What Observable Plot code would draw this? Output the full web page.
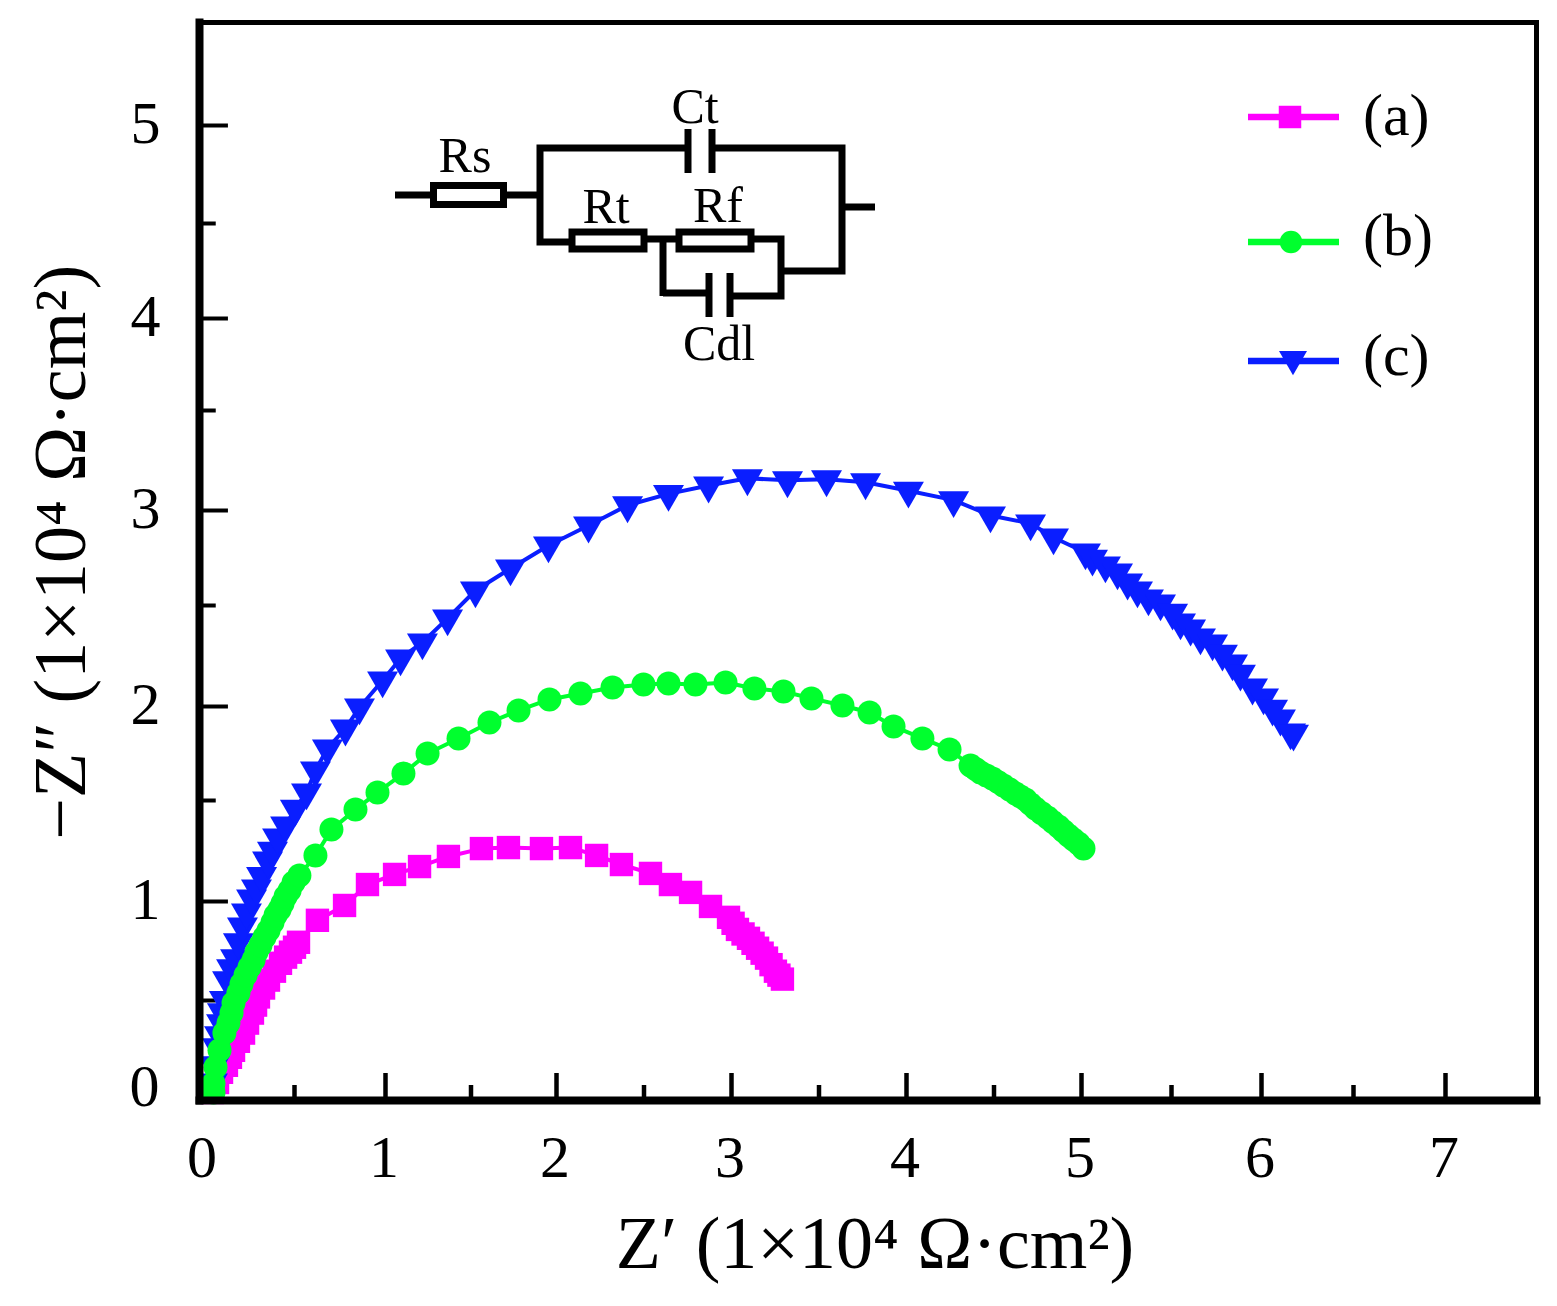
<!DOCTYPE html>
<html>
<head>
<meta charset="utf-8">
<style>html,body{margin:0;padding:0;background:#fff}svg{display:block}</style>
<script src="https://cdn.jsdelivr.net/npm/d3@7"></script>
<script src="https://cdn.jsdelivr.net/npm/@observablehq/plot@0.6"></script>
</head>
<body>
<div id="chart"></div>
<script>
const seriesLabels = ["(a)", "(b)", "(c)"];
const xLabel = "Z′ (1×10⁴ Ω·cm²)";
const yLabel = "−Z″ (1×10⁴ Ω·cm²)";
const xMajor = [0, 1, 2, 3, 4, 5, 6, 7];
const xMinor = [0.5, 1.5, 2.5, 3.5, 4.5, 5.5, 6.5];
const yMajor = [1, 2, 3, 4, 5];
const yMinor = [0.5, 1.5, 2.5, 3.5, 4.5];

const aX = [.049,.077,.099,.126,.148,.165,.192,.22,.242,.269,.286,.302,.33,.357,.39,.423,.451,.478,.5,.522,.626,.775,.901,1.053,1.199,1.368,1.561,1.719,1.912,2.08,2.229,2.371,2.537,2.651,2.766,2.88,2.983,3.009,3.034,3.066,3.097,3.123,3.149,3.175,3.2,3.226,3.251,3.271,3.291];
const aY = [.04,.09,.141,.176,.216,.251,.296,.337,.387,.437,.477,.518,.563,.603,.648,.688,.719,.744,.769,.794,.905,.98,1.084,1.134,1.173,1.223,1.262,1.267,1.262,1.267,1.228,1.183,1.139,1.084,1.045,.975,.92,.89,.859,.836,.814,.789,.764,.739,.714,.681,.648,.628,.608];

const bX = [.055,.055,.066,.088,.115,.137,.154,.165,.192,.209,.231,.253,.275,.291,.313,.335,.357,.379,.396,.418,.434,.451,.473,.495,.527,.615,.703,.835,.956,1.105,1.246,1.427,1.608,1.778,1.959,2.137,2.32,2.497,2.64,2.794,2.966,3.131,3.297,3.457,3.634,3.789,3.926,4.091,4.246,4.366,4.395,4.423,4.457,4.491,4.522,4.554,4.589,4.623,4.651,4.68,4.709,4.737,4.771,4.806,4.837,4.869,4.897,4.926,4.954,4.983,5.011];
const bY = [.04,.085,.166,.251,.337,.387,.437,.487,.538,.583,.628,.668,.704,.744,.779,.819,.854,.894,.93,.96,.99,1.025,1.054,1.094,1.129,1.228,1.356,1.455,1.543,1.644,1.75,1.83,1.915,1.979,2.035,2.064,2.094,2.109,2.114,2.109,2.119,2.089,2.074,2.04,2.005,1.968,1.894,1.83,1.771,1.686,1.667,1.649,1.633,1.617,1.599,1.58,1.558,1.537,1.521,1.505,1.482,1.46,1.438,1.416,1.393,1.371,1.349,1.327,1.307,1.287,1.262];

const cX = [.049,.06,.077,.088,.099,.104,.115,.132,.154,.176,.192,.214,.236,.264,.291,.319,.352,.379,.407,.451,.505,.566,.615,.681,.78,.857,.984,1.088,1.216,1.363,1.526,1.731,1.953,2.183,2.406,2.64,2.869,3.091,3.32,3.543,3.766,4.011,4.269,4.48,4.709,4.84,5.022,5.061,5.133,5.2,5.256,5.311,5.372,5.439,5.506,5.55,5.606,5.661,5.728,5.783,5.839,5.883,5.95,6.011,6.06,6.103,6.158,6.174];
const cY = [.09,.176,.266,.327,.387,.442,.503,.603,.663,.714,.794,.874,.945,1.015,1.065,1.126,1.203,1.252,1.317,1.376,1.46,1.543,1.66,1.777,1.883,1.995,2.129,2.238,2.317,2.436,2.579,2.695,2.816,2.921,3.026,3.083,3.125,3.161,3.151,3.156,3.141,3.099,3.052,2.974,2.932,2.858,2.779,2.747,2.711,2.674,2.621,2.579,2.537,2.511,2.465,2.416,2.386,2.342,2.312,2.262,2.213,2.163,2.094,2.045,1.989,1.936,1.862,1.856];

const MAGENTA = "#ff00ff", GREEN = "#00ff2e", BLUE = "#0a1eff";
const SERIF = "'Liberation Serif','Times New Roman',serif";

function circuit() {
  const g = d3.create("svg:g").attr("fill", "none").attr("stroke", "#000").attr("stroke-width", 7);
  const wires = [
    [[395,195],[433,195]], [[503,195],[540,195]],
    [[685,148],[540,148],[540,242],[572,242]],
    [[712,148],[842,148],[842,271],[781,271]],
    [[842,207],[875,207]],
    [[644,239],[679,239]],
    [[751,239],[781,239],[781,296],[730,296]],
    [[663,239],[663,296]], [[663,293],[709,293]],
    [[688,129],[688,173]], [[712,129],[712,173]],
    [[709,273],[709,317]], [[730,273],[730,317]]
  ];
  for (const w of wires) g.append("path").attr("d", d3.line()(w));
  for (const [x, y, w, h] of [[433.5,185.5,70,19],[572,232,72,17],[679,232,72,17]])
    g.append("rect").attr("x", x).attr("y", y).attr("width", w).attr("height", h).attr("fill", "#fff");
  for (const [t, x, y] of [["Ct",695,123],["Rs",465,172],["Rt",606,223],["Rf",718,222],["Cdl",719,360]])
    g.append("text").text(t).attr("x", x).attr("y", y).attr("text-anchor", "middle")
      .attr("stroke", "none").attr("fill", "#000").attr("font-size", 50).attr("font-family", SERIF);
  return g.node();
}

function legend() {
  const g = d3.create("svg:g");
  const rows = [
    {y: 117, ty: 135, mx: 1290, my: 117, c: MAGENTA, s: d3.symbolSquare, size: 506, rot: 0},
    {y: 242, ty: 255, mx: 1291, my: 242, c: GREEN, s: d3.symbolCircle, size: 400, rot: 0},
    {y: 361, ty: 375, mx: 1293, my: 359, c: BLUE, s: d3.symbolTriangle, size: 340, rot: 180}
  ];
  rows.forEach((r, i) => {
    g.append("line").attr("x1", 1248).attr("x2", 1339).attr("y1", r.y).attr("y2", r.y)
      .attr("stroke", r.c).attr("stroke-width", 6.5);
    g.append("path").attr("d", d3.symbol(r.s, r.size)())
      .attr("transform", `translate(${r.mx},${r.my}) rotate(${r.rot})`).attr("fill", r.c);
    g.append("text").text(seriesLabels[i]).attr("x", 1363).attr("y", r.ty).attr("text-anchor", "start")
      .attr("font-size", 60).attr("font-family", SERIF).attr("fill", "#000");
  });
  return g.node();
}

const series = (X, Y, color, symbol, r, extra = {}) => [
  Plot.line(X, {x: X, y: Y, stroke: color, strokeWidth: 4}),
  Plot.dot(X, {x: X, y: Y, fill: color, symbol, r, ...extra})
];

const chart = Plot.plot({
  width: 1557,
  height: 1306,
  marginLeft: 199,
  marginRight: 21,
  marginTop: 22,
  marginBottom: 206,
  style: {background: "#fff", fontFamily: SERIF, color: "#000"},
  x: {type: "linear", domain: xMajor, range: [203, 385, 556, 731, 906, 1081, 1261, 1445]},
  y: {type: "linear", domain: [0, .5, 1, 1.5, 2, 2.5, 3, 3.5, 4, 4.5, 5],
      range: [1100, 1000, 901, 800, 706, 605, 510, 410, 318, 223, 125]},
  marks: [
    Plot.ruleX(xMajor.slice(1), {y1: 0, y2: 0.135, stroke: "#000", strokeWidth: 4.5}),
    Plot.ruleX(xMinor, {y1: 0, y2: 0.075, stroke: "#000", strokeWidth: 4.5}),
    Plot.ruleY(yMajor, {x1: 0, x2: 0.137, stroke: "#000", strokeWidth: 4}),
    Plot.ruleY(yMinor, {x1: 0, x2: 0.07, stroke: "#000", strokeWidth: 4}),
    Plot.axisX({ticks: xMajor, tickSize: 0, tickPadding: 34, dx: -1.5, fontSize: 60, label: null, tickFormat: d => d}),
    Plot.axisY({ticks: yMajor, tickSize: 0, tickPadding: 39, dy: -2, fontSize: 60, label: null, tickFormat: d => d}),
    Plot.text(["0"], {x: 0, y: 0.07, dx: -44, text: d => d, textAnchor: "end", fontSize: 60}),
    ...series(aX, aY, MAGENTA, "square", 13.2),
    ...series(cX, cY, BLUE, "triangle", 11.5, {rotate: 180}),
    ...series(bX, bY, GREEN, "circle", 12),
    Plot.frame({anchor: "left", strokeWidth: 8, stroke: "#000", strokeLinecap: "square"}),
    Plot.frame({anchor: "bottom", strokeWidth: 8, stroke: "#000", strokeLinecap: "square"}),
    Plot.frame({anchor: "top", strokeWidth: 5, stroke: "#000", strokeLinecap: "square"}),
    Plot.frame({anchor: "right", strokeWidth: 5, stroke: "#000", strokeLinecap: "square"}),
    Plot.text([xLabel], {x: 3.82, y: -0.72, text: d => d, fontSize: 74, textAnchor: "middle"}),
    Plot.text([yLabel], {x: -0.78, y: 2.78, text: d => d, fontSize: 74, textAnchor: "middle", rotate: -90}),
    circuit,
    legend
  ]
});
document.getElementById("chart").append(chart);
</script>
</body>
</html>
